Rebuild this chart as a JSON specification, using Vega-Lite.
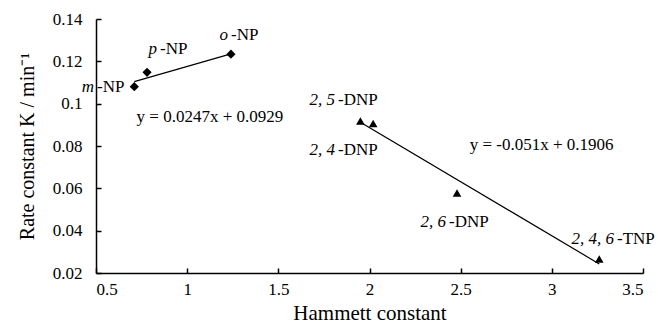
{
  "$schema": "https://vega.github.io/schema/vega-lite/v6.json",
  "autosize": {"type": "none"},
  "padding": {"left": 96, "top": 19, "right": 15, "bottom": 51},
  "width": 547,
  "height": 254,
  "background": "white",
  "config": {
    "view": {"stroke": null},
    "font": "Liberation Serif",
    "text": {"font": "Liberation Serif"},
    "axis": {"grid": false, "domainColor": "black", "domainWidth": 1.5, "tickColor": "black", "tickWidth": 1.5, "labelColor": "black", "titleColor": "black", "labelFont": "Liberation Serif", "titleFont": "Liberation Serif", "labelFontSize": 17, "titleFontSize": 20, "titleFontWeight": "normal"}
  },
  "datasets": {
    "points": [
      {"compound": "m-NP", "group": "NP", "sigma": 0.71, "k": 0.108},
      {"compound": "p-NP", "group": "NP", "sigma": 0.78, "k": 0.1148},
      {"compound": "o-NP", "group": "NP", "sigma": 1.24, "k": 0.1234},
      {"compound": "2,5-DNP", "group": "DNP", "sigma": 1.95, "k": 0.0918},
      {"compound": "2,4-DNP", "group": "DNP", "sigma": 2.02, "k": 0.0906},
      {"compound": "2,6-DNP", "group": "DNP", "sigma": 2.48, "k": 0.0578},
      {"compound": "2,4,6-TNP", "group": "DNP", "sigma": 3.26, "k": 0.0266}
    ],
    "fits": [
      {"fit": "NP", "sigma": 0.71, "k": 0.1104},
      {"fit": "NP", "sigma": 1.24, "k": 0.1235},
      {"fit": "DNP", "sigma": 1.95, "k": 0.0912},
      {"fit": "DNP", "sigma": 3.26, "k": 0.0243}
    ],
    "labels": [
      {"a": "m", "b": "-NP", "lx": 0.489, "ly": 0.1078},
      {"a": "p", "b": "-NP", "lx": 0.835, "ly": 0.1258},
      {"a": "o", "b": "-NP", "lx": 1.224, "ly": 0.1324},
      {"a": "2, 5", "b": "-DNP", "lx": 1.811, "ly": 0.1017},
      {"a": "2, 4", "b": "-DNP", "lx": 1.811, "ly": 0.078},
      {"a": "2, 6", "b": "-DNP", "lx": 2.42, "ly": 0.044},
      {"a": "2, 4, 6", "b": "-TNP", "lx": 3.341, "ly": 0.036}
    ],
    "equations": [
      {"eq": "y = 0.0247x + 0.0929", "ex": 1.125, "ey": 0.0936},
      {"eq": "y = -0.051x + 0.1906", "ex": 2.944, "ey": 0.0804}
    ]
  },
  "layer": [
    {
      "data": {"name": "fits"},
      "mark": {"type": "line", "color": "black", "strokeWidth": 1.2},
      "encoding": {
        "x": {"field": "sigma", "type": "quantitative", "scale": {"domain": [0.5, 3.5], "nice": false, "zero": false},
          "axis": {"title": "Hammett constant", "titleFontSize": 21, "values": [0.5, 1, 1.5, 2, 2.5, 3, 3.5], "tickSize": -5, "labelPadding": 13, "titlePadding": 5, "format": ".1~f"}},
        "y": {"field": "k", "type": "quantitative", "scale": {"domain": [0.02, 0.14], "nice": false, "zero": false},
          "axis": {"title": "Rate constant K / min⁻¹", "values": [0.02, 0.04, 0.06, 0.08, 0.1, 0.12, 0.14], "tickSize": -5, "labelPadding": 19, "titlePadding": 15, "format": ".2~f"}},
        "detail": {"field": "fit"}
      }
    },
    {
      "data": {"name": "points"},
      "transform": [{"filter": "datum.group === 'NP'"}],
      "mark": {"type": "point", "shape": "diamond", "filled": true, "color": "black", "size": 85, "opacity": 1},
      "encoding": {
        "x": {"field": "sigma", "type": "quantitative"},
        "y": {"field": "k", "type": "quantitative"}
      }
    },
    {
      "data": {"name": "points"},
      "transform": [{"filter": "datum.group === 'DNP'"}],
      "mark": {"type": "point", "shape": "triangle-up", "filled": true, "color": "black", "size": 75, "opacity": 1},
      "encoding": {
        "x": {"field": "sigma", "type": "quantitative"},
        "y": {"field": "k", "type": "quantitative"}
      }
    },
    {
      "data": {"name": "labels"},
      "mark": {"type": "text", "font": "Liberation Serif", "align": "right", "baseline": "middle", "fontStyle": "italic", "fontSize": 17, "color": "black"},
      "encoding": {
        "x": {"field": "lx", "type": "quantitative"},
        "y": {"field": "ly", "type": "quantitative"},
        "text": {"field": "a"}
      }
    },
    {
      "data": {"name": "labels"},
      "mark": {"type": "text", "font": "Liberation Serif", "align": "left", "baseline": "middle", "dx": 3, "fontSize": 17, "color": "black"},
      "encoding": {
        "x": {"field": "lx", "type": "quantitative"},
        "y": {"field": "ly", "type": "quantitative"},
        "text": {"field": "b"}
      }
    },
    {
      "data": {"name": "equations"},
      "mark": {"type": "text", "font": "Liberation Serif", "align": "center", "baseline": "middle", "fontSize": 17, "color": "black"},
      "encoding": {
        "x": {"field": "ex", "type": "quantitative"},
        "y": {"field": "ey", "type": "quantitative"},
        "text": {"field": "eq"}
      }
    }
  ]
}
